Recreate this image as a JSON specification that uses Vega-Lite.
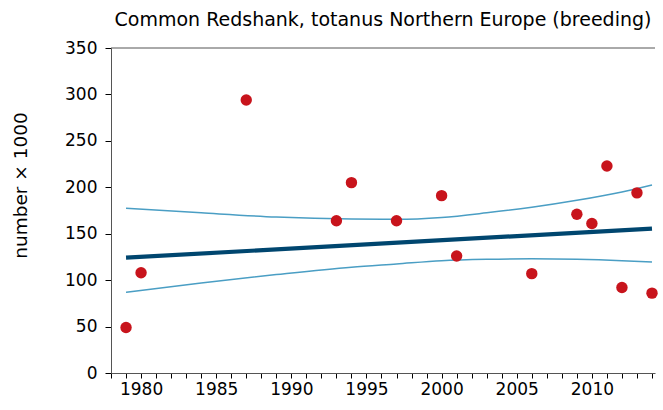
{
  "$schema": "https://vega.github.io/schema/vega-lite/v6.json",
  "width": 544,
  "height": 325,
  "autosize": {"type": "none"},
  "padding": {"left": 111, "top": 48, "right": 8, "bottom": 37},
  "background": "white",
  "config": {
    "view": {"stroke": null},
    "font": "DejaVu Sans",
    "axis": {"labelFont": "DejaVu Sans", "titleFont": "DejaVu Sans", "labelColor": "#000", "titleColor": "#000", "grid": false, "domainColor": "#555", "tickColor": "#000"}
  },
  "title": {"text": "Common Redshank, totanus Northern Europe (breeding)", "fontSize": 19, "fontWeight": "normal", "font": "DejaVu Sans", "color": "#000", "anchor": "middle", "frame": "group", "offset": 9},
  "datasets": {
    "points": [
      {"year": 1979, "value": 49},
      {"year": 1980, "value": 108},
      {"year": 1987, "value": 294},
      {"year": 1993, "value": 164},
      {"year": 1994, "value": 205},
      {"year": 1997, "value": 164},
      {"year": 2000, "value": 191},
      {"year": 2001, "value": 126},
      {"year": 2006, "value": 107},
      {"year": 2009, "value": 171},
      {"year": 2010, "value": 161},
      {"year": 2011, "value": 223},
      {"year": 2012, "value": 92},
      {"year": 2013, "value": 194},
      {"year": 2014, "value": 86}
    ],
    "trend": [
      {"year": 1979, "value": 124.2},
      {"year": 2014, "value": 155.5}
    ],
    "ci": [
      {"year": 1979, "value": 177.5, "bound": "upper"},
      {"year": 1984, "value": 172.5, "bound": "upper"},
      {"year": 1989, "value": 168, "bound": "upper"},
      {"year": 1994, "value": 165.8, "bound": "upper"},
      {"year": 1997, "value": 165.5, "bound": "upper"},
      {"year": 2000, "value": 167.5, "bound": "upper"},
      {"year": 2003, "value": 172.5, "bound": "upper"},
      {"year": 2006, "value": 178.5, "bound": "upper"},
      {"year": 2009, "value": 186, "bound": "upper"},
      {"year": 2012, "value": 195, "bound": "upper"},
      {"year": 2014, "value": 202.5, "bound": "upper"},
      {"year": 1979, "value": 87, "bound": "lower"},
      {"year": 1984, "value": 97, "bound": "lower"},
      {"year": 1989, "value": 106, "bound": "lower"},
      {"year": 1994, "value": 114, "bound": "lower"},
      {"year": 1997, "value": 117.5, "bound": "lower"},
      {"year": 2000, "value": 121, "bound": "lower"},
      {"year": 2003, "value": 122.5, "bound": "lower"},
      {"year": 2006, "value": 123, "bound": "lower"},
      {"year": 2009, "value": 122.5, "bound": "lower"},
      {"year": 2012, "value": 121, "bound": "lower"},
      {"year": 2014, "value": 119.5, "bound": "lower"}
    ]
  },
  "encoding": {
    "x": {
      "field": "year", "type": "quantitative",
      "scale": {"domain": [1978, 2014.2], "nice": false, "zero": false},
      "axis": {
        "title": null,
        "values": [1978,1979,1980,1981,1982,1983,1984,1985,1986,1987,1988,1989,1990,1991,1992,1993,1994,1995,1996,1997,1998,1999,2000,2001,2002,2003,2004,2005,2006,2007,2008,2009,2010,2011,2012,2013,2014],
        "labelExpr": "datum.value % 5 == 0 ? format(datum.value, 'd') : ''",
        "labelOverlap": false,
        "labelFontSize": 17,
        "tickSize": 5,
        "labelPadding": 3,
        "labelFlush": false
      }
    },
    "y": {
      "field": "value", "type": "quantitative",
      "scale": {"domain": [0, 350], "nice": false},
      "axis": {
        "title": "number × 1000",
        "titleFontSize": 18.5,
        "titleFontWeight": "normal",
        "titleX": -81,
        "titleY": 137,
        "values": [0, 50, 100, 150, 200, 250, 300, 350],
        "labelOverlap": false,
        "labelFontSize": 17,
        "tickSize": 6,
        "labelPadding": 8
      }
    }
  },
  "layer": [
    {
      "data": {"name": "ci"},
      "mark": {"type": "line", "color": "#4A9EC4", "strokeWidth": 1.5, "interpolate": "monotone"},
      "encoding": {
        "detail": {"field": "bound"}
      }
    },
    {
      "data": {"name": "trend"},
      "mark": {"type": "line", "color": "#00466F", "strokeWidth": 4.2},
      "encoding": {}
    },
    {
      "data": {"name": "points"},
      "mark": {"type": "circle", "color": "#C8141C", "opacity": 1, "size": 130},
      "encoding": {}
    },
    {
      "data": {"values": [{"top": 350}]},
      "mark": {"type": "rule", "color": "#555", "strokeWidth": 1},
      "encoding": {"x": null, "y": {"field": "top", "type": "quantitative"}}
    }
  ]
}
